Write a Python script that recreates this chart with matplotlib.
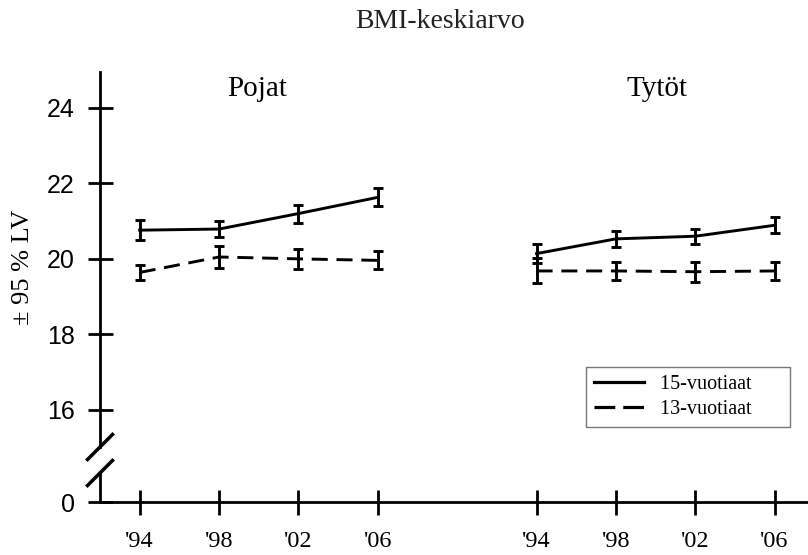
import numpy as np
import matplotlib
matplotlib.use('Agg')
from matplotlib import pyplot as plt
from matplotlib.lines import Line2D

# data
years = ["'94", "'98", "'02", "'06"]
groups = ['Pojat', 'Tytöt']
pojat_15 = [20.76, 20.79, 21.20, 21.63]
pojat_15_err = [0.26, 0.22, 0.24, 0.24]
pojat_13 = [19.64, 20.05, 20.00, 19.96]
pojat_13_err = [0.21, 0.29, 0.26, 0.24]
tytot_15 = [20.14, 20.53, 20.60, 20.89]
tytot_15_err = [0.25, 0.21, 0.20, 0.21]
tytot_13 = [19.68, 19.68, 19.66, 19.68]
tytot_13_err = [0.33, 0.24, 0.26, 0.24]
series_labels = ['15-vuotiaat', '13-vuotiaat']
yticks = [0, 16, 18, 20, 22, 24]

serif = 'Liberation Serif'
sans = 'Liberation Sans'

# broken y axis: 0 squeezed up to sit just below 16
Y0 = 13.56
def fwd(y):
    y = np.asarray(y, dtype=float)
    return np.where(y >= 16, y, Y0 + y * (16 - Y0) / 16)
def inv(v):
    v = np.asarray(v, dtype=float)
    return np.where(v >= 16, v, (v - Y0) * 16 / (16 - Y0))

fig = plt.figure(figsize=(8.08, 5.55), dpi=100)
ax = fig.add_axes([100/808, 1 - 502/555, 708/808, 430/555])
ax.set_yscale('function', functions=(fwd, inv))

xp = np.arange(4)
xt = xp + 5
lw = 2.1
cap = 3.5
dash = (0, (5.5, 3))
kw = dict(color='black', lw=lw, capsize=cap, capthick=lw, elinewidth=lw)
ax.errorbar(xp, pojat_15, yerr=pojat_15_err, ls='-', **kw)
ax.errorbar(xp, pojat_13, yerr=pojat_13_err, ls=dash, **kw)
ax.errorbar(xt, tytot_15, yerr=tytot_15_err, ls='-', **kw)
ax.errorbar(xt, tytot_13, yerr=tytot_13_err, ls=dash, **kw)

ax.set_xlim(-0.5, 8.42)
ax.set_ylim(0, 24.95)
ax.set_xticks(list(xp) + list(xt))
ax.set_xticklabels(years + years, fontsize=17.5, family=serif)
ax.set_yticks(yticks)
ax.set_yticklabels([str(t) for t in yticks], fontsize=18, family=sans)
ax.tick_params(axis='both', direction='inout', length=18, width=2, color='black')
ax.tick_params(axis='x', pad=12)
ax.tick_params(axis='y', pad=9)

for s in ['top', 'right', 'left']:
    ax.spines[s].set_visible(False)
ax.spines['bottom'].set_linewidth(2)

# left axis drawn in two pieces with break slashes
h = 430.0
w = 708.0
b1 = (502 - 447) / h
b2 = (502 - 473) / h
ax.plot([0, 0], [b1, 1], transform=ax.transAxes, color='black', lw=2, clip_on=False)
ax.plot([0, 0], [0, b2], transform=ax.transAxes, color='black', lw=2, clip_on=False)
dx = 12.5 / w
dy = 12.5 / h
for b in (b1, b2):
    ax.plot([-dx, dx], [b - dy, b + dy], transform=ax.transAxes, color='black', lw=2.5, clip_on=False)

ax.text(1.48, 24.0, groups[0], ha='center', va='baseline', fontsize=21, family=serif)
ax.text(6.52, 24.0, groups[1], ha='center', va='baseline', fontsize=21, family=serif)
for t in ax.texts:
    t.set_y(inv(fwd(24.0) + (108 - 96) / 37.75))

fig.text(440/808, 1 - 28/555, 'BMI-keskiarvo', ha='center', va='baseline', fontsize=20,
         family=serif, color='#222222')
fig.text(23/808, 1 - 267/555, '± 95 % LV', rotation=90, ha='center', va='center', fontsize=19, family=serif)

handles = [Line2D([], [], color='black', lw=2.3, ls='-'),
           Line2D([], [], color='black', lw=2.3, ls=(0, (6.5, 2.5)))]
leg = ax.legend(handles, [l + '      ' for l in series_labels], loc='lower right',
                bbox_to_anchor=(690/708, (502 - 427) / h), borderaxespad=0,
                prop={'family': serif, 'size': 14.5},
                frameon=True, fancybox=False, edgecolor='#555555', handlelength=2.5, borderpad=0.4,
                labelspacing=0.3, handletextpad=0.8)
leg.get_frame().set_linewidth(1)

fig.savefig('out.png', dpi=100)
